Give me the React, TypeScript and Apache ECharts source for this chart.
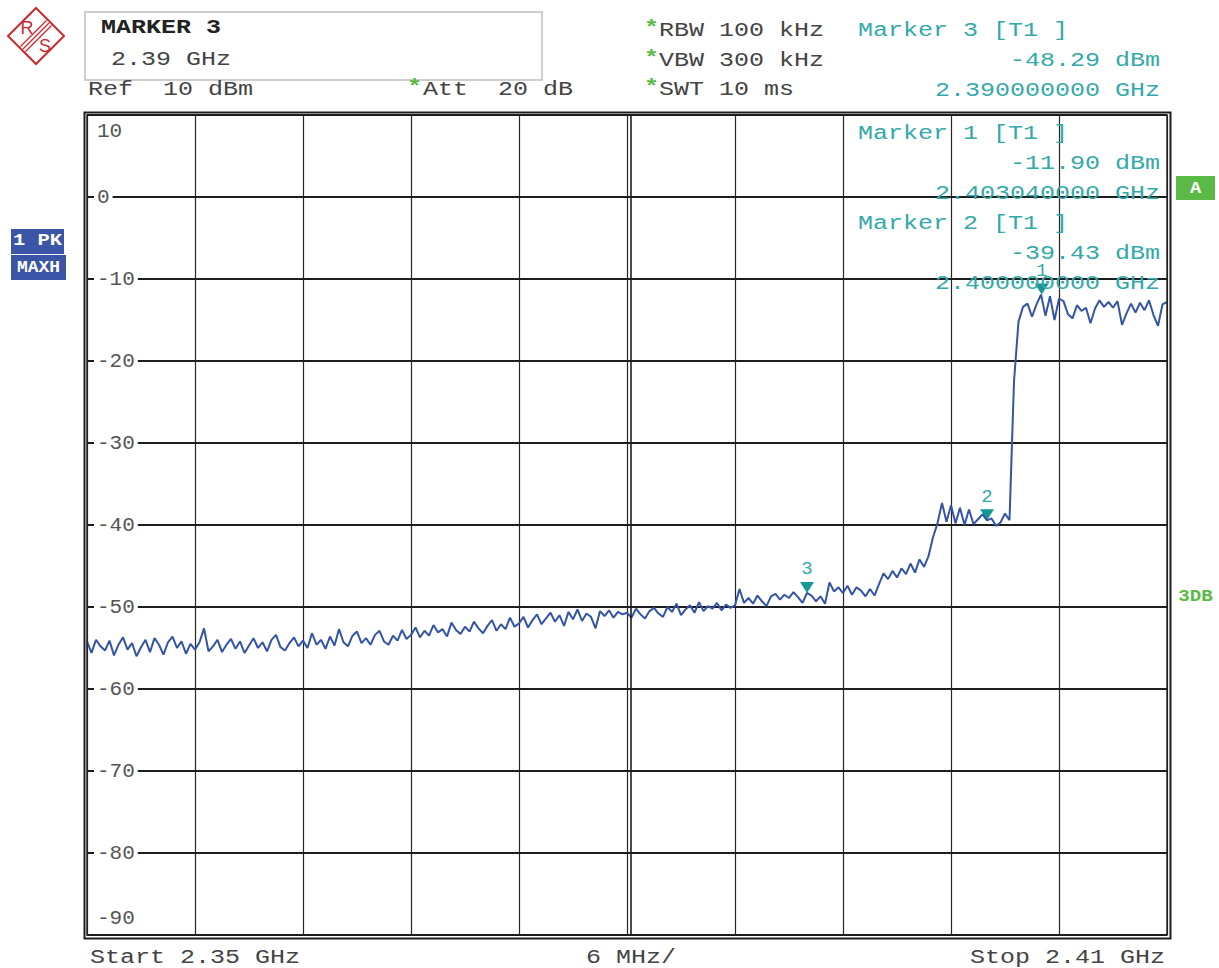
import React, { useEffect, useRef } from "react";
import * as echarts from "echarts";

// ---- sweep setup ----
const startGHz = 2.35;
const stopGHz = 2.41;
const spanMHz = 60;
const divMHz = 6;
const topLevel = 10;
const bottomLevel = -90;
const levelDiv = 10;

// ---- trace (1 PK MAXH), dBm, evenly spaced over the span ----
const traceDbm = [
  // 2.350 - 2.356
  -54.2, -55.6, -54.0, -54.8, -55.3, -54.1, -55.9, -54.6, -53.7, -55.2, -54.4, -56.0,
  -54.9, -54.0, -55.5, -53.8, -54.6, -55.8, -54.3, -53.6, -55.0, -54.2, -55.7, -54.5,
  // 2.356 - 2.362
  -55.2, -54.3, -52.6, -55.4, -54.8, -54.0, -55.5, -54.6, -53.9, -55.1, -54.2, -55.6,
  -54.7, -53.8, -55.0, -54.3, -55.4, -54.0, -53.4, -54.9, -55.3, -54.4, -53.7, -54.8,
  // 2.362 - 2.368
  -54.1, -55.0, -53.2, -54.6, -54.0, -55.1, -53.6, -54.7, -52.7, -54.3, -54.8, -53.5,
  -53.0, -54.4, -53.8, -54.6, -53.4, -52.9, -54.2, -54.6, -53.5, -54.1, -52.8, -53.9,
  // 2.368 - 2.374
  -53.4, -52.5, -53.7, -52.9, -53.5, -52.2, -53.1, -52.7, -53.6, -51.9, -52.8, -53.3,
  -52.4, -53.0, -51.8, -52.6, -53.2, -52.3, -51.6, -52.9, -52.1, -52.7, -51.3, -52.4,
  // 2.374 - 2.380
  -52.0, -51.2, -52.5, -51.6, -50.9, -52.1, -51.4, -50.7, -51.8, -51.0, -52.3, -50.6,
  -51.5, -50.3, -51.7, -50.8, -51.2, -52.6, -50.5, -51.1, -50.4, -51.3, -50.6, -50.9,
  // 2.380 - 2.386
  -50.7, -51.3, -50.2, -50.9, -51.4, -50.5, -50.1, -50.8, -51.2, -50.0, -50.6, -49.6,
  -51.0, -50.3, -49.8, -50.7, -49.4, -50.5, -49.9, -50.2, -49.5, -50.4, -49.7, -50.1,
  // 2.386 - 2.392
  -49.8, -47.8, -49.5, -48.9, -49.6, -48.6, -49.3, -49.9, -48.7, -48.4, -49.1, -48.5,
  -48.9, -48.2, -48.8, -49.5, -48.29, -48.6, -49.3, -48.7, -49.6, -47.0, -48.1, -47.6,
  // 2.392 - 2.398
  -48.3, -47.4, -48.5, -47.6, -48.0, -48.7, -47.8, -48.6, -47.2, -45.9, -46.6, -45.6,
  -46.4, -45.3, -46.0, -44.7, -45.8, -44.2, -45.1, -43.8, -41.5, -39.8, -37.3, -39.6,
  // 2.398 - 2.404
  -37.6, -39.8, -37.9, -40.0, -38.1, -39.9, -39.3, -38.7, -39.43, -39.2, -40.1, -39.7,
  -38.6, -39.4, -22.5, -15.2, -13.4, -13.0, -14.6, -13.1, -11.9, -14.5, -12.1, -15.0,
  // 2.404 - 2.410
  -12.4, -12.7, -14.3, -14.8, -13.2, -13.9, -13.5, -15.4, -13.6, -12.6, -13.4, -12.8,
  -13.5, -12.7, -15.6, -14.2, -13.0, -14.1, -12.9, -13.8, -12.6, -14.4, -15.7, -13.1,
  -12.8,
];

// ---- markers ----
const markerNames = ["1", "2", "3"];
const markerMHz = [53.04, 50, 40]; // offset from start
const markerDbm = [-11.9, -39.43, -48.29];

// ---- header texts ----
const markerBoxTitle = "MARKER 3";
const markerBoxValue = "2.39 GHz";
const refText = "Ref  10 dBm";
const attText = "Att  20 dB";
const setupTexts = ["RBW 100 kHz", "VBW 300 kHz", "SWT 10 ms"];
const startText = "Start 2.35 GHz";
const divText = "6 MHz/";
const stopText = "Stop 2.41 GHz";

// ---- layout / style ----
const GL = 87, GT = 115, GW = 1080, GH = 820;
const MONO = '"Liberation Mono", "DejaVu Sans Mono", monospace';
const TEAL = "#33a9a9";
const TEAL_DARK = "#159797";
const GREEN = "#5bb946";
const BLUE_BOX = "#3a55a5";
const TRACE = "#3454a6";
const RED = "#cc2a30";

function txt(text: string, x: number, y: number, o: any = {}) {
  return {
    type: "text",
    x,
    y,
    scaleX: o.sx ?? 1.25,
    silent: true,
    z: 100,
    style: {
      text,
      x: 0,
      y: 0,
      fill: o.fill ?? "#444",
      fontFamily: o.family ?? MONO,
      fontSize: o.size ?? 20,
      fontWeight: o.bold ? "bold" : "normal",
      align: o.align ?? "left",
      verticalAlign: "middle",
    },
  };
}

function fmtFreq(mhz: number) {
  return (startGHz + mhz / 1000).toFixed(9) + " GHz";
}

export default function App() {
  const ref = useRef<HTMLDivElement>(null);

  useEffect(() => {
    if (!ref.current) return;
    const chart = echarts.init(ref.current, undefined, { renderer: "svg" });

    const step = spanMHz / (traceDbm.length - 1);
    const data = traceDbm.map((v, i) => [i * step, v]);

    const markData = markerNames.map((n, i) => ({
      name: n,
      coord: [markerMHz[i], markerDbm[i]],
    }));

    const graphic: any[] = [];

    // R&S logo
    graphic.push({
      type: "polygon",
      silent: true,
      shape: { points: [[36, 8], [64, 36], [36, 64], [8, 36]] },
      style: { fill: "none", stroke: RED, lineWidth: 2 },
    });
    [-2.5, 0, 2.5].forEach((d) => {
      graphic.push({
        type: "line",
        silent: true,
        shape: { x1: 49 + d, y1: 23 + d, x2: 23 + d, y2: 49 + d },
        style: { stroke: RED, lineWidth: 1.2 },
      });
    });
    graphic.push(txt("R", 27, 28, { fill: RED, size: 18, sx: 1, family: "Liberation Sans, sans-serif", align: "center" }));
    graphic.push(txt("S", 45, 46, { fill: RED, size: 18, sx: 1, family: "Liberation Sans, sans-serif", align: "center" }));

    // marker info box
    graphic.push({
      type: "rect",
      silent: true,
      shape: { x: 85, y: 12, width: 457, height: 68 },
      style: { fill: "#fff", stroke: "#cfcfcf", lineWidth: 2 },
    });
    graphic.push(txt(markerBoxTitle, 101, 28, { bold: true, fill: "#222" }));
    graphic.push(txt(markerBoxValue, 111, 60, { fill: "#444" }));
    graphic.push(txt(refText, 88, 90));
    graphic.push(txt("*", 407, 88, { fill: GREEN, bold: true }));
    graphic.push(txt(attText, 423, 90));
    setupTexts.forEach((t, i) => {
      graphic.push(txt("*", 644, 29 + i * 29.5, { fill: GREEN, bold: true }));
      graphic.push(txt(t, 659, 31 + i * 29.5));
    });

    // marker readouts: marker 3 in header, 1 & 2 inside plot
    const readout = (idx: number, y0: number) => {
      graphic.push(txt(`Marker ${markerNames[idx]} [T1 ]`, 858, y0, { fill: TEAL }));
      graphic.push(txt(`${markerDbm[idx].toFixed(2)} dBm`, 1160, y0 + 30, { fill: TEAL, align: "right" }));
      graphic.push(txt(fmtFreq(markerMHz[idx]), 1160, y0 + 60, { fill: TEAL, align: "right" }));
    };
    readout(2, 31);
    readout(0, 134);
    readout(1, 224);

    // left trace badges
    graphic.push({ type: "rect", silent: true, shape: { x: 11, y: 229, width: 53, height: 25 }, style: { fill: BLUE_BOX } });
    graphic.push(txt("1 PK", 37.5, 241.5, { fill: "#fff", bold: true, size: 16, sx: 1.28, align: "center" }));
    graphic.push({ type: "rect", silent: true, shape: { x: 11, y: 255, width: 55, height: 25 }, style: { fill: BLUE_BOX } });
    graphic.push(txt("MAXH", 38.5, 267.5, { fill: "#fff", bold: true, size: 16, sx: 1.12, align: "center" }));

    // right badges
    graphic.push({ type: "rect", silent: true, shape: { x: 1176, y: 176, width: 39, height: 24 }, style: { fill: GREEN } });
    graphic.push(txt("A", 1195.5, 188, { fill: "#fff", bold: true, size: 17, sx: 1.1, align: "center" }));
    graphic.push(txt("3DB", 1195.5, 596, { fill: GREEN, bold: true, size: 16, sx: 1.2, align: "center" }));

    // frame: outer border + center double line
    graphic.push({
      type: "rect",
      silent: true,
      z: 50,
      shape: { x: 84.5, y: 112.5, width: 1086, height: 826 },
      style: { fill: "none", stroke: "#1e1e1e", lineWidth: 2 },
    });
    graphic.push({
      type: "rect",
      silent: true,
      z: 50,
      shape: { x: GL, y: GT, width: GW, height: GH },
      style: { fill: "none", stroke: "#1e1e1e", lineWidth: 1.4 },
    });
    graphic.push({
      type: "line",
      silent: true,
      z: 50,
      shape: { x1: GL + GW / 2 + 4, y1: GT, x2: GL + GW / 2 + 4, y2: GT + GH },
      style: { stroke: "#1e1e1e", lineWidth: 1.6 },
    });

    // bottom texts
    graphic.push(txt(startText, 90, 958));
    graphic.push(txt(divText, 586, 958));
    graphic.push(txt(stopText, 1165, 958, { align: "right" }));

    chart.setOption({
      animation: false,
      backgroundColor: "#ffffff",
      grid: { left: GL, top: GT, width: GW, height: GH, containLabel: false },
      xAxis: {
        type: "value",
        min: 0,
        max: spanMHz,
        interval: divMHz,
        axisLine: { show: false },
        axisTick: { show: false },
        axisLabel: { show: false },
        splitLine: { show: true, lineStyle: { color: "#262626", width: 1.2 } },
      },
      yAxis: {
        type: "value",
        min: bottomLevel,
        max: topLevel,
        interval: levelDiv,
        axisLine: { show: false },
        axisTick: { show: false },
        splitLine: { show: true, lineStyle: { color: "#1e1e1e", width: 1.8 } },
        axisLabel: {
          inside: true,
          margin: 7,
          color: "#555",
          fontFamily: MONO,
          fontSize: 21,
          formatter: (v: number) =>
            v === topLevel ? `{t|${v}}` : v === bottomLevel ? `{b|${v}}` : `{a|${v}}`,
          rich: {
            a: { backgroundColor: "#fff", padding: [0, 3, 0, 3], fontFamily: MONO, fontSize: 21, color: "#555" },
            t: { padding: [32, 0, 0, 3], fontFamily: MONO, fontSize: 21, color: "#555" },
            b: { padding: [0, 0, 34, 3], fontFamily: MONO, fontSize: 21, color: "#555" },
          },
        },
        z: 3,
      },
      series: [
        {
          type: "line",
          data,
          showSymbol: false,
          symbol: "none",
          lineStyle: { color: TRACE, width: 2 },
          z: 5,
          markPoint: {
            symbol: "path://M0 0L14 0L7 11Z",
            symbolSize: [14, 11],
            symbolOffset: [0, -5.5],
            itemStyle: { color: TEAL_DARK },
            label: {
              show: true,
              position: "top",
              distance: 3,
              formatter: "{b}",
              color: TEAL,
              fontFamily: MONO,
              fontSize: 19,
            },
            data: markData,
          },
        },
      ],
      graphic,
    });

    return () => chart.dispose();
  }, []);

  return (
    <div
      ref={ref}
      style={{ position: "fixed", left: 0, top: 0, width: 1219, height: 968, background: "#fff" }}
    />
  );
}
